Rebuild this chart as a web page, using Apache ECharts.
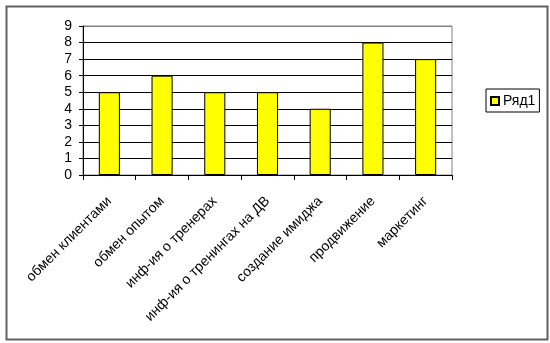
<!DOCTYPE html>
<html><head><meta charset="utf-8">
<script src="https://cdn.jsdelivr.net/npm/echarts@6/dist/echarts.min.js"></script>
<style>html,body{margin:0;padding:0;background:#fff}#c{width:550px;height:343px}</style>
</head><body><div id="c"></div>
<script>
var categories = ['обмен клиентами','обмен опытом','инф-ия о тренерах','инф-ия о тренингах на ДВ','создание имиджа','продвижение','маркетинг'];
var values = [5, 6, 5, 5, 4, 8, 7];
var seriesName = 'Ряд1';
var yTicks = [0, 9, 1]; // min, max, interval

var font = 'Arial, "Liberation Sans", sans-serif';
var gridColors = [];
for (var i = 0; i <= yTicks[1]; i++) gridColors.push(i === yTicks[1] ? '#808080' : '#000000');

var chart = echarts.init(document.getElementById('c'), null, {renderer: 'canvas'});
chart.setOption({
  animation: false,
  backgroundColor: '#ffffff',
  graphic: [{
    type: 'rect', left: 4, top: 4, z: 100, silent: true,
    shape: {width: 541, height: 333},
    style: {fill: 'none', stroke: '#606060', lineWidth: 2}
  }],
  grid: {left: 83, right: 98, top: 26, bottom: 168, show: true, borderColor: '#808080', borderWidth: 1, backgroundColor: '#ffffff'},
  legend: {
    data: [seriesName], left: 486, top: 89, orient: 'vertical',
    padding: [5, 4, 4, 4], borderColor: '#000', borderWidth: 1,
    itemWidth: 8, itemHeight: 8, itemGap: 0,
    icon: 'rect',
    textStyle: {fontFamily: font, fontSize: 14, color: '#000', padding: [0, 0, 0, -1]}
  },
  xAxis: {
    type: 'category', data: categories,
    axisLine: {lineStyle: {color: '#000', width: 1}},
    axisTick: {show: true, length: 5, lineStyle: {color: '#000'}},
    axisLabel: {rotate: 45, interval: 0, margin: 24, fontFamily: font, fontSize: 14, color: '#000'},
    splitLine: {show: false}
  },
  yAxis: {
    type: 'value', min: yTicks[0], max: yTicks[1], interval: yTicks[2],
    axisLine: {show: true, lineStyle: {color: '#000', width: 1}},
    axisTick: {show: true, length: 4, lineStyle: {color: '#000'}},
    axisLabel: {margin: 11, fontFamily: font, fontSize: 14, color: '#000'},
    splitLine: {show: true, lineStyle: {color: gridColors, width: 1}}
  },
  series: [{
    name: seriesName, type: 'bar', data: values,
    barCategoryGap: '60%',
    itemStyle: {color: '#ffff00', borderColor: '#000', borderWidth: 1}
  }]
});
</script></body></html>
